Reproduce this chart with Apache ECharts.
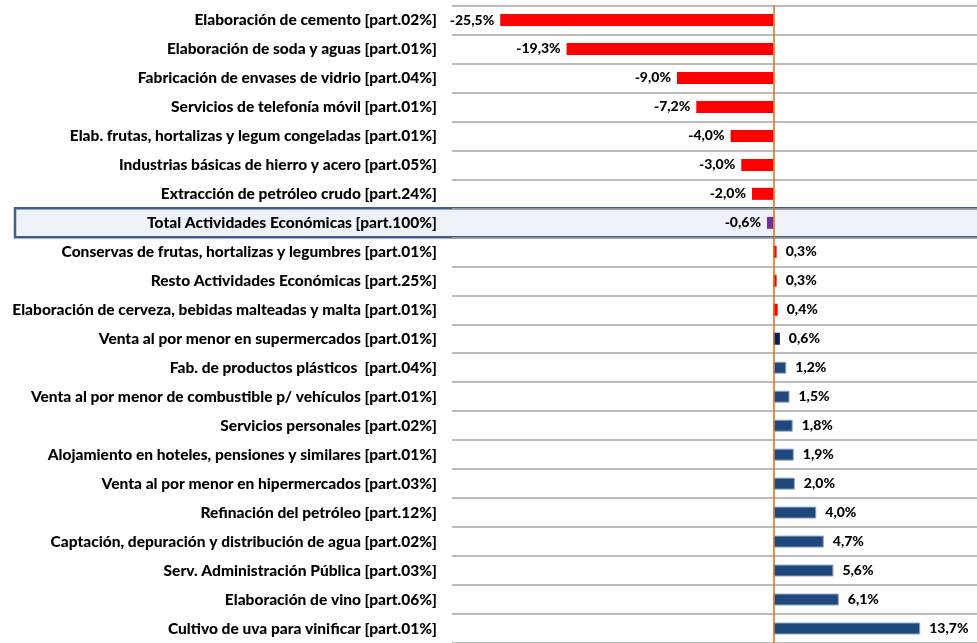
<!DOCTYPE html>
<html>
<head>
<meta charset="utf-8">
<script src="https://cdn.jsdelivr.net/npm/echarts@6/dist/echarts.min.js"></script>
<style>
    html, body { margin: 0; padding: 0; background: #fff; }
    #chart { width: 977px; height: 643px; }
</style>
</head>
<body>
<div id="chart"></div>
<script>
let categories = [
    'Elaboración de cemento [part.02%]',
    'Elaboración de soda y aguas [part.01%]',
    'Fabricación de envases de vidrio [part.04%]',
    'Servicios de telefonía móvil [part.01%]',
    'Elab. frutas, hortalizas y legum congeladas [part.01%]',
    'Industrias básicas de hierro y acero [part.05%]',
    'Extracción de petróleo crudo [part.24%]',
    'Total Actividades Económicas [part.100%]',
    'Conservas de frutas, hortalizas y legumbres [part.01%]',
    'Resto Actividades Económicas [part.25%]',
    'Elaboración de cerveza, bebidas malteadas y malta [part.01%]',
    'Venta al por menor en supermercados [part.01%]',
    'Fab. de productos plásticos  [part.04%]',
    'Venta al por menor de combustible p/ vehículos [part.01%]',
    'Servicios personales [part.02%]',
    'Alojamiento en hoteles, pensiones y similares [part.01%]',
    'Venta al por menor en hipermercados [part.03%]',
    'Refinación del petróleo [part.12%]',
    'Captación, depuración y distribución de agua [part.02%]',
    'Serv. Administración Pública [part.03%]',
    'Elaboración de vino [part.06%]',
    'Cultivo de uva para vinificar [part.01%]'
]
let values = [-25.5, -19.3, -9.0, -7.2, -4.0, -3.0, -2.0, -0.6, 0.3, 0.3, 0.4, 0.6, 1.2, 1.5, 1.8, 1.9, 2.0, 4.0, 4.7, 5.6, 6.1, 13.7]
let totalName = 'Total Actividades Económicas [part.100%]'

// colores de barra por fila
let barColors = ['red', 'red', 'red', 'red', 'red', 'red', 'red', 'total', 'red', 'red', 'red', 'navy',
    'blue', 'blue', 'blue', 'blue', 'blue', 'blue', 'blue', 'blue', 'blue', 'blue']
let palette = {
    red: {color: '#FF0000'},
    total: {color: '#7030A0'},
    navy: {color: '#002060'},
    blue: {color: '#1F497D', borderColor: '#8FA8C8', borderWidth: 1}
}

let font = 'Lato'
let chart = echarts.init(document.getElementById('chart'))

let seriesData = values.map(function (v, i) {
    return {
        value: v,
        itemStyle: palette[barColors[i]],
        label: {
            position: v < 0 ? 'left' : 'right',
            distance: v < 0 ? 6 : 9
        }
    }
})

let option = {
    animation: false,
    grid: {top: 5.5, left: 452, width: 525, height: 642.4},
    xAxis: {
        type: 'value',
        min: -30,
        max: 19,
        show: false
    },
    yAxis: {
        type: 'category',
        inverse: true,
        data: categories,
        axisLine: {show: false},
        axisTick: {show: false},
        splitLine: {show: true, lineStyle: {color: '#A6A6A6', width: 1.5}},
        axisLabel: {
            margin: 15,
            color: '#000',
            fontFamily: font,
            fontWeight: 900,
            fontSize: 15.5
        }
    },
    series: [{
        type: 'bar',
        data: seriesData,
        barWidth: 12,
        label: {
            show: true,
            color: '#000',
            fontFamily: font,
            fontWeight: 900,
            fontSize: 14,
            formatter: function (p) {
                return p.value.toFixed(1).replace('.', ',') + '%'
            }
        },
        markLine: {
            silent: true,
            symbol: 'none',
            label: {show: false},
            lineStyle: {color: '#E46C0A', width: 1.5, type: 'solid'},
            data: [{xAxis: 0}]
        }
    }]
}
chart.setOption(option)

// recuadro de la fila total
let yc = chart.convertToPixel({yAxisIndex: 0}, totalName)
let rowH = chart.convertToPixel({yAxisIndex: 0}, 1) - chart.convertToPixel({yAxisIndex: 0}, 0)
chart.setOption({
    graphic: [{
        type: 'rect',
        z: -1,
        shape: {x: 15, y: yc - rowH / 2, width: 980, height: rowH},
        style: {fill: '#EFF3F9', stroke: '#3F5F8C', lineWidth: 2.5}
    }]
})
</script>
</body>
</html>
